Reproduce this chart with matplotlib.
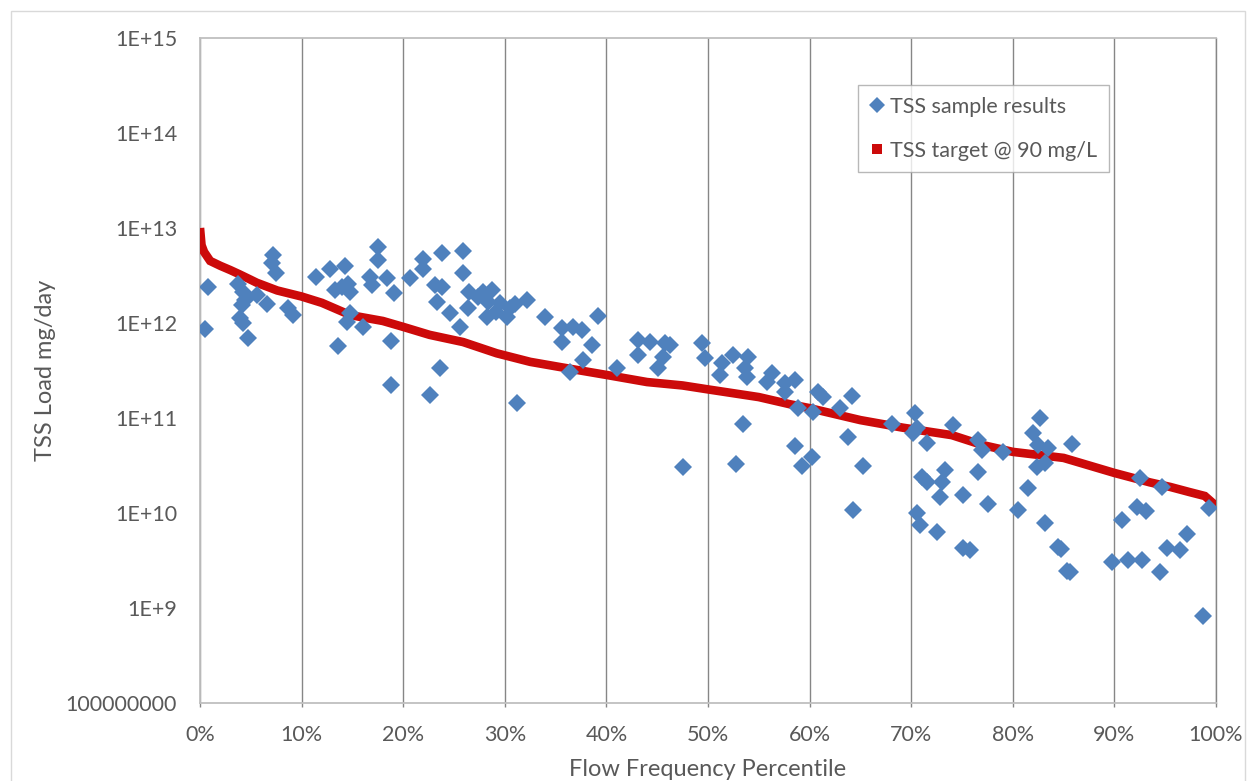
import numpy as np
import matplotlib.pyplot as plt
from matplotlib.lines import Line2D
from matplotlib.patches import Rectangle
from matplotlib.ticker import FixedLocator, PercentFormatter

plt.rcParams['font.family'] = ['Lato', 'DejaVu Sans']

# TSS sample results (flow percentile %, load mg/day)
sample_pct = [0.5, 0.8, 3.7, 4.2, 4.1, 4.4, 5.6, 6.6, 3.9, 4.2, 4.7, 7.2, 7.1, 7.5, 8.7, 9.2,
              11.4, 12.8, 14.3, 14.0, 14.6, 14.8, 13.3, 14.5, 14.8, 16.0, 13.6, 16.7, 17.5, 17.5,
              18.4, 16.9, 19.1, 18.8, 18.8, 20.7, 21.9, 21.9, 23.8, 23.1, 23.8, 23.3, 23.6, 22.6,
              24.6, 25.9, 25.9, 25.6, 26.5, 26.4, 27.9, 28.3, 28.2, 29.5, 30.5, 30.2, 27.4, 28.7,
              31.0, 29.1, 32.2, 31.2, 34.0, 35.6, 35.6, 36.7, 37.6, 38.6, 39.2, 37.7, 36.4, 41.0,
              43.1, 43.1, 44.3, 45.8, 46.3, 45.6, 45.1, 47.5, 49.4, 49.7, 51.4, 52.5, 53.9, 51.2,
              53.6, 53.8, 56.3, 55.8, 57.6, 58.6, 57.6, 58.9, 53.4, 52.8, 58.6, 59.3, 60.2, 60.3,
              60.8, 61.3, 63.0, 64.2, 63.8, 64.3, 65.3, 68.1, 70.4, 70.6, 70.2, 71.6, 71.1, 71.6,
              70.6, 70.9, 72.5, 73.3, 73.0, 72.8, 74.1, 75.1, 75.1, 75.8, 76.6, 76.6, 77.0, 77.6,
              79.0, 80.5, 81.5, 82.7, 82.0, 82.5, 83.5, 82.4, 83.2, 83.2, 84.4, 84.7, 85.3, 85.6,
              85.8, 89.8, 90.7, 91.3, 92.2, 93.1, 92.7, 92.5, 94.5, 94.7, 95.2, 96.5, 97.1, 99.3,
              98.7]
sample_load = [8.6e11, 2.4e12, 2.6e12, 2.1e12, 1.55e12, 1.75e12, 1.97e12, 1.6e12, 1.13e12, 1.0e12,
               6.95e11, 5.2e12, 4.3e12, 3.4e12, 1.44e12, 1.21e12,
               3.05e12, 3.7e12, 4.0e12, 2.4e12, 2.6e12, 2.1e12, 2.2e12, 1.03e12, 1.27e12, 9.1e11,
               5.7e11, 3.05e12, 6.3e12, 4.6e12,
               2.98e12, 2.5e12, 2.07e12, 6.5e11, 2.2e11, 2.98e12, 4.7e12, 3.7e12, 5.5e12, 2.5e12,
               2.4e12, 1.66e12, 3.4e11, 1.75e11,
               1.27e12, 5.7e12, 3.4e12, 9.1e11, 2.1e12, 1.44e12, 2.1e12, 1.66e12, 1.16e12, 1.63e12,
               1.44e12, 1.16e12, 1.88e12, 2.2e12,
               1.58e12, 1.3e12, 1.75e12, 1.44e11, 1.16e12, 8.9e11, 6.3e11, 9.1e11, 8.4e11, 5.9e11,
               1.19e12, 4.1e11, 3.05e11, 3.4e11,
               6.6e11, 4.6e11, 6.3e11, 6.15e11, 5.9e11, 4.4e11, 3.4e11, 3.05e10, 6.15e11, 4.3e11,
               3.8e11, 4.6e11, 4.4e11, 2.84e11,
               3.4e11, 2.7e11, 2.98e11, 2.4e11, 2.33e11, 2.5e11, 1.88e11, 1.27e11, 8.6e10, 3.3e10,
               5.1e10, 3.1e10, 3.9e10, 1.16e11,
               1.88e11, 1.66e11, 1.27e11, 1.7e11, 6.3e10, 1.08e10, 3.1e10, 8.6e10, 1.13e11, 7.85e10,
               6.95e10, 5.5e10, 2.4e10, 2.1e10,
               1.0e10, 7.5e9, 6.3e9, 2.84e10, 2.1e10, 1.47e10, 8.4e10, 1.55e10, 4.3e9, 4.1e9,
               2.7e10, 5.9e10, 4.6e10, 1.24e10,
               4.4e10, 1.08e10, 1.83e10, 1.0e11, 6.95e10, 5.2e10, 4.8e10, 3.05e10, 3.4e10, 7.9e9,
               4.4e9, 4.2e9, 2.45e9, 2.4e9,
               5.3e10, 3.05e9, 8.4e9, 3.2e9, 1.16e10, 1.05e10, 3.2e9, 2.33e10, 2.4e9, 1.88e10,
               4.3e9, 4.1e9, 6.0e9, 1.13e10,
               8.2e8]

# target load curve at 90 mg/L
target_pct = [0.0, 0.15, 0.4, 1.0, 2.0, 3.0, 3.9, 5.0, 5.6, 7.6, 10.0, 12.0, 14.8, 18.0, 20.0,
              22.6, 25.9, 29.2, 32.5, 35.7, 40.0, 44.0, 47.5, 50.0, 55.0, 58.0, 60.0, 65.0, 69.2,
              74.0, 77.0, 80.0, 85.0, 90.0, 93.5, 95.5, 97.4, 98.9, 99.7, 99.9]
target_load = [1.0e13, 6.6e12, 5.6e12, 4.5e12, 4.0e12, 3.6e12, 3.25e12, 2.85e12, 2.65e12, 2.2e12,
               1.9e12, 1.63e12, 1.21e12, 1.05e12, 9.1e11, 7.5e11, 6.3e11, 4.8e11, 3.9e11, 3.4e11,
               2.84e11, 2.39e11, 2.2e11, 2.0e11, 1.66e11, 1.4e11, 1.27e11, 9.5e10, 7.9e10, 6.6e10,
               5.2e10, 4.4e10, 3.8e10, 2.64e10, 2.1e10, 1.88e10, 1.66e10, 1.51e10, 1.27e10, 1.08e10]

ytick_vals = [1e8, 1e9, 1e10, 1e11, 1e12, 1e13, 1e14, 1e15]
ytick_labels = ['100000000', '1E+9', '1E+10', '1E+11', '1E+12', '1E+13', '1E+14', '1E+15']

blue = '#4F81BD'
red = '#CC0A0A'
txt = '#595959'

fig = plt.figure(figsize=(12.48, 7.81), dpi=100)
ax = fig.add_axes([200/1248, 1 - 703/781, 1016/1248, 665/781])

ax.plot(target_pct, target_load, color=red, lw=6.2, solid_capstyle='butt',
        solid_joinstyle='miter', zorder=3)
ax.plot(sample_pct, sample_load, linestyle='none', marker='D', markersize=9.4,
        color=blue, markeredgewidth=0, zorder=4)

ax.set_yscale('log')
ax.set_ylim(1e8, 1e15)
ax.set_xlim(0, 100)
ax.yaxis.set_major_locator(FixedLocator(ytick_vals))
ax.set_yticklabels(ytick_labels)
ax.yaxis.set_minor_locator(FixedLocator([]))
ax.set_xticks(np.arange(0, 101, 10))
ax.xaxis.set_major_formatter(PercentFormatter(decimals=0))

ax.grid(axis='x', color='#868686', lw=1)
ax.tick_params(axis='y', length=0, pad=16.5, labelsize=15.5, labelcolor=txt)
ax.tick_params(axis='x', length=3, width=1, color='#868686', pad=13, labelsize=15.5,
               labelcolor=txt)
for s in ax.spines.values():
    s.set_color('#BFBFBF')
    s.set_linewidth(1.3)
ax.spines['right'].set_color('#868686')
ax.spines['right'].set_linewidth(1)

ax.set_ylabel('TSS Load mg/day', fontsize=17, color=txt, labelpad=7)
ax.set_xlabel('Flow Frequency Percentile', fontsize=17, color=txt, labelpad=10)

handles = [Line2D([], [], linestyle='none', marker='D', markersize=8, color=blue,
                  markeredgewidth=0),
           Line2D([], [], linestyle='none', marker='s', markersize=7, color=red,
                  markeredgewidth=0)]
leg = ax.legend(handles, ['TSS sample results', 'TSS target @ 90 mg/L'],
                loc='upper left', bbox_to_anchor=((858 - 200)/1016, (703 - 85)/665),
                borderaxespad=0, fontsize=15.5, frameon=True, fancybox=False,
                handlelength=0.65, handletextpad=0.3, labelspacing=1.1, borderpad=0.55,
                labelcolor=txt)
leg.get_frame().set_edgecolor('#A6A6A6')
leg.get_frame().set_linewidth(1)

# chart area outline
fig.patches.append(Rectangle((11/1248, -0.05), (1245 - 11)/1248, 1.05 - 11/781,
                             transform=fig.transFigure, fill=False,
                             edgecolor='#D9D9D9', lw=1))

fig.savefig('out.png', dpi=100)
